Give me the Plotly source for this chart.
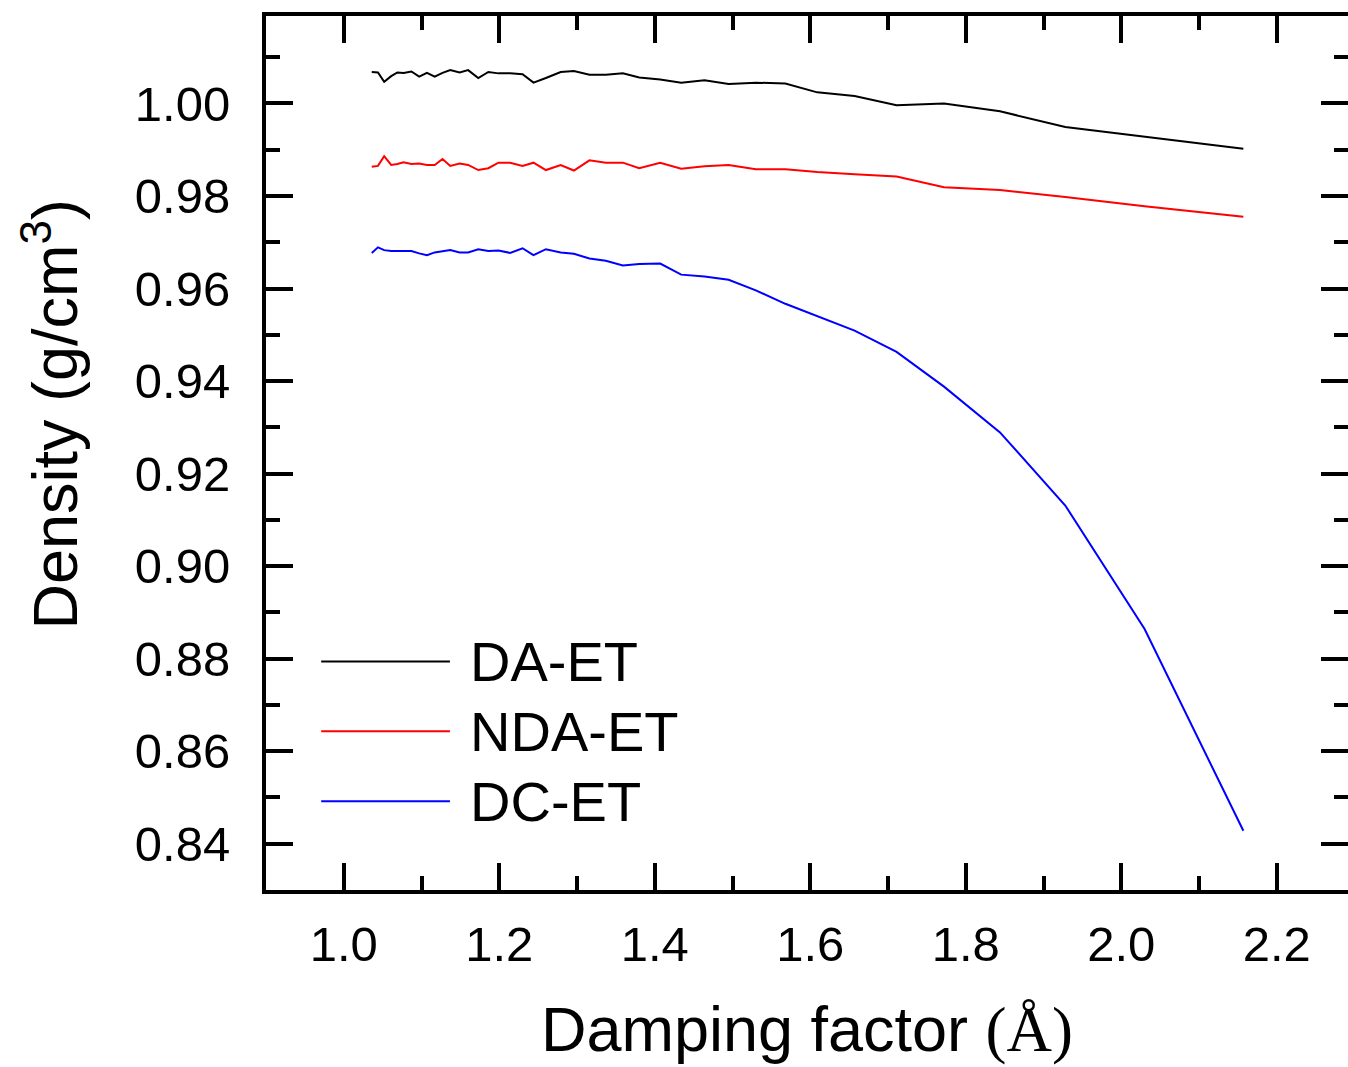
import plotly.graph_objects as go

# Damping factor (Å)
damping = [1.036, 1.044, 1.052, 1.061, 1.069, 1.077, 1.087, 1.097, 1.107, 1.117,
           1.127, 1.137, 1.149, 1.160, 1.173, 1.186, 1.199, 1.214, 1.230, 1.244,
           1.260, 1.279, 1.296, 1.316, 1.337, 1.359, 1.380, 1.407, 1.434, 1.464,
           1.495, 1.530, 1.568, 1.609, 1.657, 1.711, 1.772, 1.844, 1.928, 2.030,
           2.157]

da_et = [1.0068, 1.0067, 1.0047, 1.0059, 1.0067, 1.0066, 1.0069, 1.0058, 1.0066, 1.0058,
         1.0066, 1.0072, 1.0067, 1.0072, 1.0055, 1.0068, 1.0065, 1.0065, 1.0063, 1.0045,
         1.0055, 1.0068, 1.0070, 1.0062, 1.0062, 1.0065, 1.0056, 1.0052, 1.0045, 1.0050,
         1.0042, 1.0045, 1.0043, 1.0024, 1.0016, 0.9996, 1.0000, 0.9983, 0.9949, 0.9928,
         0.9902]

nda_et = [0.9863, 0.9865, 0.9886, 0.9867, 0.9869, 0.9873, 0.9869, 0.9870, 0.9867, 0.9867,
          0.9880, 0.9865, 0.9870, 0.9867, 0.9856, 0.9860, 0.9872, 0.9872, 0.9865, 0.9872,
          0.9856, 0.9867, 0.9855, 0.9877, 0.9872, 0.9872, 0.9860, 0.9872, 0.9859, 0.9864,
          0.9867, 0.9858, 0.9858, 0.9852, 0.9847, 0.9842, 0.9819, 0.9813, 0.9798, 0.9778,
          0.9755]

dc_et = [0.9677, 0.9689, 0.9683, 0.9681, 0.9681, 0.9681, 0.9681, 0.9676, 0.9672, 0.9678,
         0.9680, 0.9683, 0.9678, 0.9678, 0.9685, 0.9681, 0.9682, 0.9677, 0.9687, 0.9672,
         0.9685, 0.9678, 0.9675, 0.9665, 0.9660, 0.9650, 0.9653, 0.9654, 0.9630, 0.9626,
         0.9619, 0.9596, 0.9567, 0.9540, 0.9509, 0.9463, 0.9388, 0.9289, 0.9131, 0.8864,
         0.8428]

series_names = ["DA-ET", "NDA-ET", "DC-ET"]
series_values = [da_et, nda_et, dc_et]
series_colors = ["#000000", "#ff0000", "#0000ff"]

x_ticks = [1.0, 1.2, 1.4, 1.6, 1.8, 2.0, 2.2]
y_ticks = [0.84, 0.86, 0.88, 0.90, 0.92, 0.94, 0.96, 0.98, 1.00]
x_range = [0.9, 2.2916]
y_range = [0.83, 1.0189]

FONT = "Liberation Sans, Arial, Helvetica, sans-serif"

fig = go.Figure()
for name, vals, col in zip(series_names, series_values, series_colors):
    fig.add_trace(go.Scatter(x=damping, y=vals, mode="lines", name=name,
                             line=dict(color=col, width=2), showlegend=False))
# invisible trace to carry the right-hand (tick-only) axis
fig.add_trace(go.Scatter(x=[x_range[0]], y=[y_range[0]], yaxis="y2", mode="markers",
                         marker=dict(opacity=0), showlegend=False, hoverinfo="skip"))

# custom legend (long sample lines)
leg_y = [0.2615, 0.1815, 0.1015]
for name, col, yy in zip(series_names, series_colors, leg_y):
    fig.add_shape(type="line", xref="paper", yref="paper",
                  x0=0.051, x1=0.170, y0=yy, y1=yy,
                  line=dict(color=col, width=2))
    fig.add_annotation(xref="paper", yref="paper", x=0.187, y=yy, text=name,
                       showarrow=False, xanchor="left", yanchor="middle",
                       font=dict(family=FONT, size=56, color="black"))

# y-axis title
fig.add_annotation(xref="paper", yref="paper", x=-0.2, y=0.5446,
                   text="Density (g/cm<sup>3</sup>)", textangle=-90,
                   showarrow=False, xanchor="center", yanchor="middle",
                   font=dict(family=FONT, size=63, color="black"))

tickfont = dict(family=FONT, size=49, color="black")

fig.update_layout(
    width=1348, height=1067,
    margin=dict(l=266, r=0, t=16, b=177),
    plot_bgcolor="white", paper_bgcolor="white",
    showlegend=False,
    xaxis=dict(
        range=x_range, tickvals=x_ticks, ticktext=[f"{v:.1f}" for v in x_ticks],
        showline=True, linecolor="black", linewidth=4, mirror="ticks",
        ticks="inside", ticklen=27, tickwidth=4, tickcolor="black",
        minor=dict(dtick=0.1, tick0=0.9, ticks="inside", ticklen=14, tickwidth=4, tickcolor="black"),
        showgrid=False, zeroline=False, tickfont=tickfont, ticklabelstandoff=8,
        title=dict(text="Damping factor <span style='font-family:Liberation Serif'>(Å)</span>",
                   font=dict(family=FONT, size=63, color="black"), standoff=38),
    ),
    yaxis=dict(
        range=y_range, tickvals=y_ticks, ticktext=[f"{v:.2f}" for v in y_ticks],
        showline=True, linecolor="black", linewidth=4, mirror=False,
        ticks="inside", ticklen=27, tickwidth=4, tickcolor="black",
        minor=dict(dtick=0.01, tick0=0.83, ticks="inside", ticklen=14, tickwidth=4, tickcolor="black"),
        showgrid=False, zeroline=False, tickfont=tickfont, ticklabelstandoff=22,
    ),
    yaxis2=dict(
        range=y_range, overlaying="y", side="right", tickvals=y_ticks,
        showticklabels=False, showline=False,
        ticks="inside", ticklen=27, tickwidth=4, tickcolor="black",
        minor=dict(dtick=0.01, tick0=0.83, ticks="inside", ticklen=14, tickwidth=4, tickcolor="black"),
        showgrid=False, zeroline=False,
    ),
)

fig.write_html("out.html")
